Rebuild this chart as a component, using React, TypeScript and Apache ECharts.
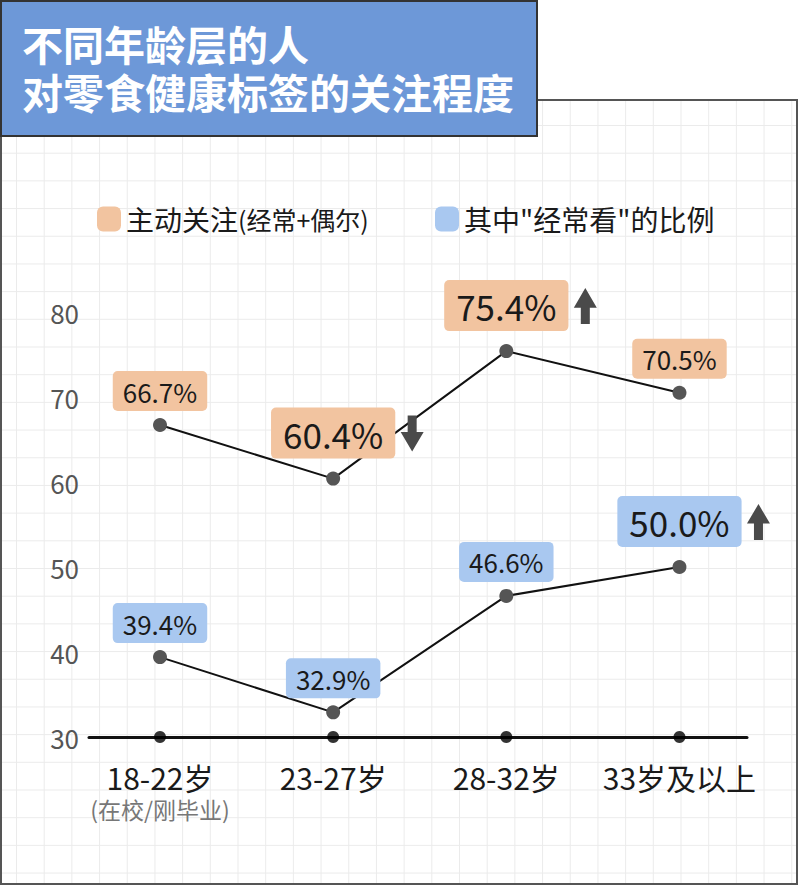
import { useEffect, useRef } from "react";
import * as echarts from "echarts";

const categories = ["18-22岁", "23-27岁", "28-32岁", "33岁及以上"];
const categoryNotes = ["(在校/刚毕业)", "", "", ""];
const activeValues = [66.7, 60.4, 75.4, 70.5];
const frequentValues = [39.4, 32.9, 46.6, 50.0];
const activeTrend = ["", "down", "up", ""];
const frequentTrend = ["", "", "", "up"];
const yTicks = [30, 40, 50, 60, 70, 80];

const FONT = "Noto Sans CJK SC";
const ORANGE = "#f2c4a0";
const BLUE = "#a9c8f0";
const UP_ARROW = "path://M11.5,0 L23,19 L16,19 L16,35 L7,35 L7,19 L0,19 Z";
const DOWN_ARROW = "path://M7,0 L16,0 L16,16 L23,16 L11.5,35 L0,16 L7,16 Z";

function buildPoints(values: number[], trend: string[]) {
    return values.map((v, i) => {
        const big = trend[i] !== "";
        return {
            value: [i, v],
            label: big
                ? { fontSize: 35, lineHeight: 35, padding: [8, 12, 8, 12], distance: 13 }
                : { fontSize: 26, lineHeight: 26, padding: [7, 10, 7, 10], distance: 7 },
        };
    });
}

function buildArrows(values: number[], trend: string[]) {
    return values
        .map((v, i) => ({ v, i, t: trend[i] }))
        .filter((d) => d.t !== "")
        .map((d) => ({
            coord: [d.i, d.v],
            symbol: d.t === "up" ? UP_ARROW : DOWN_ARROW,
            symbolSize: [23, 36],
            symbolOffset: [79, -45],
            itemStyle: { color: "#4a4a4a" },
            label: { show: false },
        }));
}

function lineSeries(name: string, values: number[], trend: string[], bg: string) {
    return {
        name,
        type: "line",
        data: buildPoints(values, trend),
        symbol: "circle",
        symbolSize: 14,
        lineStyle: { color: "#111", width: 2 },
        itemStyle: { color: "#555" },
        z: 3,
        label: {
            show: true,
            position: "top",
            formatter: (p: any) => p.value[1].toFixed(1) + "%",
            backgroundColor: bg,
            borderRadius: 5,
            color: "#1a1a1a",
            fontFamily: FONT,
        },
        markPoint: { data: buildArrows(values, trend), silent: true },
    };
}

function App() {
    const ref = useRef<HTMLDivElement>(null);

    useEffect(() => {
        document.body.style.margin = "0";
        if (!ref.current) return;
        const chart = echarts.init(ref.current, null, { renderer: "svg" });

        chart.setOption({
            animation: false,
            textStyle: { fontFamily: FONT },
            graphic: [
                {
                    type: "rect",
                    shape: { x: 1, y: 1, width: 536, height: 135 },
                    style: { fill: "#6d98d8", stroke: "#333", lineWidth: 2 },
                    z: 10,
                },
                {
                    type: "text",
                    x: 22,
                    y: 19,
                    z: 11,
                    style: {
                        text: "不同年龄层的人\n对零食健康标签的关注程度",
                        fill: "#fff",
                        font: `bold 41px "${FONT}"`,
                        lineHeight: 48,
                        verticalAlign: "top",
                    },
                },
            ],
            legend: [
                {
                    left: 92,
                    top: 200,
                    icon: "roundRect",
                    itemWidth: 24,
                    itemHeight: 25,
                    itemGap: 7,
                    data: [{ name: "主动关注", itemStyle: { color: ORANGE } }],
                    formatter: () => "{a|主动关注}{b|(经常+偶尔)}",
                    textStyle: {
                        rich: {
                            a: { fontSize: 28, color: "#1a1a1a", fontFamily: FONT },
                            b: { fontSize: 25, color: "#1a1a1a", fontFamily: FONT },
                        },
                    },
                },
                {
                    left: 430,
                    top: 200,
                    icon: "roundRect",
                    itemWidth: 24,
                    itemHeight: 25,
                    data: [{ name: '其中"经常看"的比例', itemStyle: { color: BLUE } }],
                    textStyle: { fontSize: 28, color: "#1a1a1a", fontFamily: FONT },
                },
            ],
            grid: { left: 89, right: 53, top: 312, bottom: 150 },
            xAxis: {
                type: "value",
                min: -0.41,
                max: 3.39,
                axisLine: { show: true, onZero: false, lineStyle: { color: "#111", width: 3 } },
                axisTick: { show: false },
                splitLine: { show: false },
                axisLabel: {
                    customValues: categories.map((_, i) => i),
                    margin: 23,
                    formatter: (v: number) => {
                        const i = Math.round(v);
                        const note = categoryNotes[i];
                        return note ? `{a|${categories[i]}}\n{b|${note}}` : `{a|${categories[i]}}`;
                    },
                    rich: {
                        a: { fontSize: 30, lineHeight: 34, color: "#1a1a1a", fontFamily: FONT },
                        b: { fontSize: 23, lineHeight: 30, color: "#777", fontFamily: FONT },
                    },
                },
            },
            yAxis: {
                type: "value",
                min: yTicks[0],
                max: yTicks[yTicks.length - 1],
                interval: 10,
                axisLine: { show: false },
                axisTick: { show: false },
                splitLine: { show: false },
                axisLabel: { color: "#555", fontSize: 26, margin: 10, fontFamily: FONT },
            },
            series: [
                lineSeries("主动关注", activeValues, activeTrend, ORANGE),
                lineSeries('其中"经常看"的比例', frequentValues, frequentTrend, BLUE),
                {
                    type: "scatter",
                    data: categories.map((_, i) => [i, yTicks[0]]),
                    symbolSize: 12,
                    itemStyle: { color: "#000" },
                    silent: true,
                    z: 4,
                },
            ],
        });

        return () => {
            chart.dispose();
        };
    }, []);

    return (
        <div style={{ position: "relative", width: 800, height: 887, background: "#fff" }}>
            <div
                style={{
                    position: "absolute",
                    left: 0,
                    top: 99,
                    width: 798,
                    height: 786,
                    boxSizing: "border-box",
                    border: "2px solid #555",
                    backgroundImage:
                        "linear-gradient(#ebebeb 1px, transparent 1px), linear-gradient(90deg, #ebebeb 1px, transparent 1px)",
                    backgroundSize: "27.7px 27.7px",
                    backgroundPosition: "14px 24px",
                }}
            />
            <div ref={ref} style={{ position: "absolute", left: 0, top: 0, width: 800, height: 887 }} />
        </div>
    );
}

export default App;
